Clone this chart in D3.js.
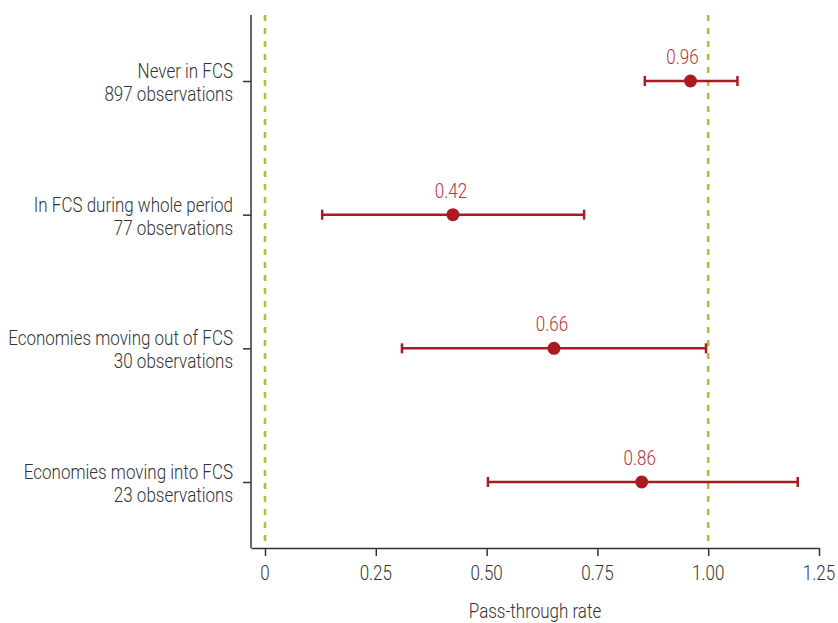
<!DOCTYPE html>
<html><head><meta charset="utf-8">
<script src="https://cdn.jsdelivr.net/npm/d3@7"></script>
<style>body{margin:0;background:#fff}svg{display:block}</style>
</head><body>
<svg id="c" width="838" height="623"></svg>
<script>
const categories = ["Never in FCS", "In FCS during whole period", "Economies moving out of FCS", "Economies moving into FCS"];
const observations = ["897 observations", "77 observations", "30 observations", "23 observations"];
const estimates = [0.96, 0.424, 0.652, 0.85];
const estimateLabels = ["0.96", "0.42", "0.66", "0.86"];
const lowerCI = [0.857, 0.129, 0.309, 0.503];
const upperCI = [1.066, 0.72, 0.995, 1.202];
const xTicks = [0, 0.25, 0.5, 0.75, 1.0, 1.25];
const xTickLabels = ["0", "0.25", "0.50", "0.75", "1.00", "1.25"];
const refLines = [0, 1];

(function () {
const font = "Roboto, 'Liberation Sans', sans-serif";
const fs = 21;
const fw = 300;
const svg = d3.select("#c");
const mLeft = 251, mRight = 819, mTop = 15, mBottom = 548;
const x = d3.scaleLinear().domain([-0.0316, 1.25]).range([mLeft, mRight]);
const y = d3.scalePoint().domain(categories).range([81, 482]);

// measure condensing factor so the font looks condensed like the reference
const probe = svg.append("text").attr("font-family", font).attr("font-size", fs)
  .attr("font-weight", fw).text(categories[2]);
const sx = 225 / probe.node().getComputedTextLength();
probe.remove();

function ctext(parent, tx, ty, str, anchor, fill) {
  return parent.append("text")
    .attr("transform", `translate(${tx},${ty}) scale(${sx},1)`)
    .attr("text-anchor", anchor).attr("font-family", font)
    .attr("font-size", fs).attr("font-weight", fw).attr("fill", fill).text(str);
}

// reference lines
svg.selectAll(".ref").data(refLines).enter().append("line")
  .attr("x1", d => x(d)).attr("x2", d => x(d))
  .attr("y1", mTop).attr("y2", mBottom)
  .attr("stroke", "#a8c23a").attr("stroke-width", 2.6)
  .attr("stroke-dasharray", "6,7");

// x axis
const xAxis = d3.axisBottom(x).tickValues(xTicks)
  .tickFormat("").tickSize(8).tickSizeOuter(0);
const gx = svg.append("g").attr("transform", `translate(0,${mBottom})`).call(xAxis);
gx.select(".domain").attr("stroke", "#333").attr("stroke-width", 1.5);
gx.selectAll(".tick line").attr("stroke", "#333").attr("stroke-width", 1.5);
gx.selectAll(".tick text").remove();
xTicks.forEach((v, i) => ctext(svg, x(v), 580, xTickLabels[i], "middle", "#333"));

// y axis
const yAxis = d3.axisLeft(y).tickSize(8).tickSizeOuter(0).tickFormat("");
const gy = svg.append("g").attr("transform", `translate(${mLeft},0)`).call(yAxis);
gy.select(".domain").remove();
gy.append("line").attr("x1", 0).attr("x2", 0).attr("y1", mTop).attr("y2", mBottom)
  .attr("stroke", "#333").attr("stroke-width", 1.5);
gy.selectAll(".tick line").attr("stroke", "#333").attr("stroke-width", 1.5);
gy.selectAll(".tick text").remove();

// y labels
categories.forEach((c, i) => {
  ctext(svg, 233, y(c) - 3, c, "end", "#333");
  ctext(svg, 233, y(c) + 20, observations[i], "end", "#333");
});

// error bars
const red = "#aa1a22";
const g = svg.append("g");
categories.forEach((c, i) => {
  const yy = y(c);
  g.append("line").attr("x1", x(lowerCI[i])).attr("x2", x(upperCI[i]))
    .attr("y1", yy).attr("y2", yy).attr("stroke", red).attr("stroke-width", 2.5);
  [lowerCI[i], upperCI[i]].forEach(v => {
    g.append("line").attr("x1", x(v)).attr("x2", x(v))
      .attr("y1", yy - 5).attr("y2", yy + 5).attr("stroke", red).attr("stroke-width", 2.5);
  });
  g.append("circle").attr("cx", x(estimates[i])).attr("cy", yy).attr("r", 6.5).attr("fill", red);
  // labels sit slightly left; keep clear of the dashed reference line at 1
  const lx = x(estimates[i]) - 2;
  const shift = Math.abs(x(1) - lx) < 20 ? -6 : 0;
  ctext(g, lx + shift, yy - 17, estimateLabels[i], "middle", "#b8313a");
});

// axis title
ctext(svg, (mLeft + mRight) / 2, 618, "Pass-through rate", "middle", "#333");
})();
</script>
</body></html>
